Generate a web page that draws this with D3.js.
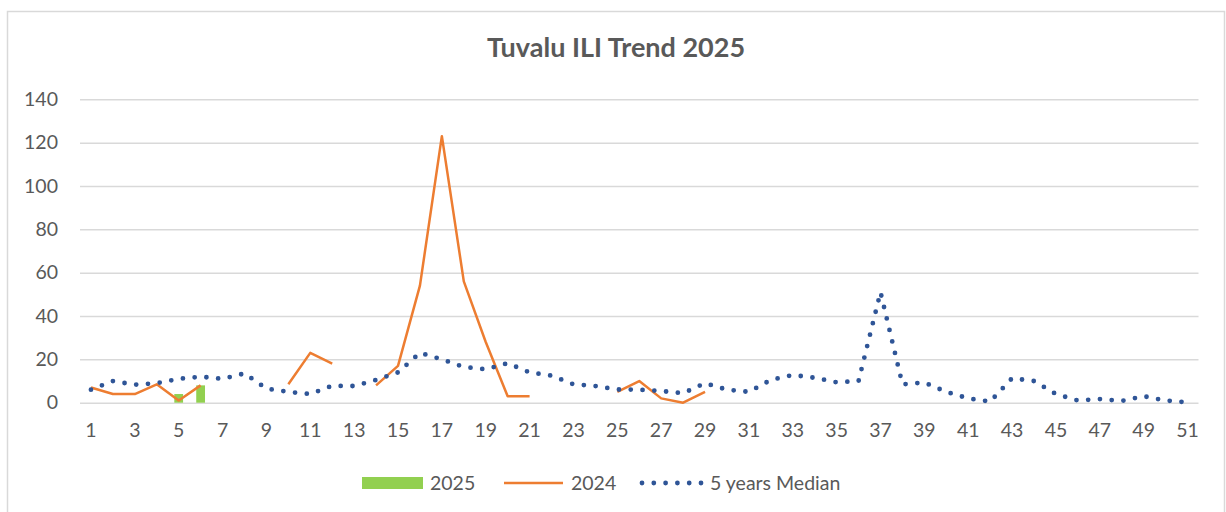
<!DOCTYPE html>
<html>
<head>
<meta charset="utf-8">
<script src="https://d3js.org/d3.v7.min.js"></script>
<style>
  body { margin: 0; background: #fff; }
  text { font-family: Lato, "Open Sans", sans-serif; fill: #595959; }
</style>
</head>
<body>
<svg id="chart" width="1226" height="512"></svg>
<script>
// week numbers 1..51
const weeks = d3.range(1, 52);
// 2025 cases (only first weeks reported)
const cases2025 = [null, null, null, null, 4, 8];
// 2024 cases, null where not reported
const cases2024 = [7, 4, 4, 8.5, 1, 8, null, null, null, 8.5, 23, 18, null, 8, 17, 54, 123, 56, 28, 3, 3,
  null, null, null, 5, 10, 2, 0, 5];
// 5 years median
const median5 = [6, 10, 8.3, 9, 11, 12, 11, 13.5, 6.5, 5, 4, 7.8, 7.7, 10.5, 14, 23, 20, 16.5, 15.4, 18.2, 14,
  12.5, 8.5, 7.7, 6.1, 6, 5.4, 4.4, 9, 6, 5, 10.5, 12.8, 11.5, 9.4, 10, 51, 8.5, 9.3, 5, 2, 0.5, 11.3, 10,
  4, 1, 1.7, 0.8, 3, 1, 0.2];
const yTicks = [0, 20, 40, 60, 80, 100, 120, 140];
const xTickLabels = weeks.filter(w => w % 2 === 1);
const seriesNames = ["2025", "2024", "5 years Median"];

const svg = d3.select("#chart");
const margins = { top: 99.3, left: 80, right: 27.5, bottom: 109.3 };
const width = +svg.attr("width");
const height = +svg.attr("height");
const chartW = width - margins.left - margins.right;
const chartH = height - margins.top - margins.bottom;

// outer chart border
svg.append("rect")
  .attr("x", 7.5).attr("y", 11.5)
  .attr("width", 1217).attr("height", 540)
  .attr("fill", "none").attr("stroke", "#d9d9d9").attr("stroke-width", 1.5);

svg.append("text")
  .attr("x", 616).attr("y", 57)
  .attr("text-anchor", "middle")
  .attr("font-size", 27).attr("font-weight", "bold")
  .text("Tuvalu ILI Trend 2025");

const g = svg.append("g").attr("transform", `translate(${margins.left},${margins.top})`);

const xScale = d3.scaleBand().domain(weeks).range([0, chartW]);
const xMid = w => xScale(w) + xScale.bandwidth() / 2;
const yScale = d3.scaleLinear().domain([0, 140]).range([chartH, 0]);

// y axis with gridlines
const yAxis = g.append("g").call(d3.axisLeft(yScale).tickValues(yTicks).tickSize(-chartW).tickPadding(22));
yAxis.select(".domain").remove();
yAxis.selectAll("line").attr("stroke", "#d9d9d9").attr("stroke-width", 1.5);
yAxis.selectAll("text").attr("font-size", 19.5).attr("font-family", "Lato").attr("fill", "#595959");

// x axis labels
const xAxis = g.append("g").attr("transform", `translate(0,${chartH})`)
  .call(d3.axisBottom(xScale).tickValues(xTickLabels).tickSize(0).tickPadding(20));
xAxis.select(".domain").remove();
xAxis.selectAll("text").attr("font-size", 19.5).attr("font-family", "Lato").attr("fill", "#595959");

// 2025 bars
g.selectAll("rect.bar")
  .data(cases2025.map((v, i) => ({ week: weeks[i], value: v })).filter(d => d.value != null))
  .join("rect")
  .attr("class", "bar")
  .attr("x", d => xMid(d.week) - xScale.bandwidth() * 0.2)
  .attr("width", xScale.bandwidth() * 0.4)
  .attr("y", d => yScale(d.value))
  .attr("height", d => chartH - yScale(d.value))
  .attr("fill", "#92d050");

const lineGen = d3.line()
  .defined(d => d.value != null)
  .x(d => xMid(d.week))
  .y(d => yScale(d.value));

g.append("path")
  .datum(cases2024.map((v, i) => ({ week: weeks[i], value: v })))
  .attr("fill", "none")
  .attr("stroke", "#ed7d31")
  .attr("stroke-width", 2.5)
  .attr("stroke-linejoin", "round")
  .attr("d", lineGen);

g.append("path")
  .datum(median5.map((v, i) => ({ week: weeks[i], value: v })))
  .attr("fill", "none")
  .attr("stroke", "#2f5597")
  .attr("stroke-width", 4.8)
  .attr("stroke-linecap", "round")
  .attr("stroke-dasharray", "0 11.8")
  .attr("d", lineGen);

// legend
const legend = svg.append("g").attr("transform", "translate(0,483)");
legend.append("rect").attr("x", 362).attr("y", -6).attr("width", 61).attr("height", 12).attr("fill", "#92d050");
legend.append("line").attr("x1", 504).attr("x2", 563).attr("stroke", "#ed7d31").attr("stroke-width", 2.5);
legend.append("line").attr("x1", 642).attr("x2", 702)
  .attr("stroke", "#2f5597").attr("stroke-width", 4.8)
  .attr("stroke-linecap", "round").attr("stroke-dasharray", "0 11.8");
[430, 571, 710].forEach((x, i) => {
  legend.append("text").attr("x", x).attr("y", 0).attr("dy", "0.35em")
    .attr("font-size", 19.5).text(seriesNames[i]);
});
</script>
</body>
</html>
